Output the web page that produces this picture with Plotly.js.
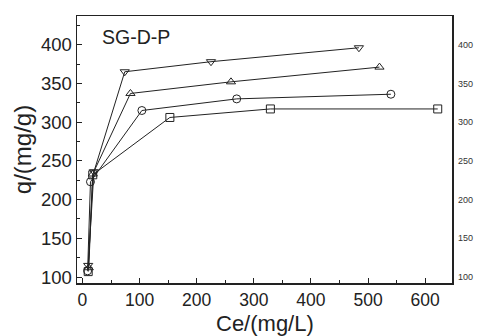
<!DOCTYPE html>
<html><head><meta charset="utf-8">
<script src="https://cdn.plot.ly/plotly-3.0.1.min.js"></script>
<style>html,body{margin:0;padding:0;background:#fff}#plot{width:479px;height:336px}</style>
</head><body><div id="plot"></div>
<script>
const sqX = [10, 18, 153, 329, 622];
const sqY = [107, 232, 306, 317, 317];
const ciX = [9, 14, 104, 270, 540];
const ciY = [108, 223, 315, 330, 336];
const upX = [11, 18, 84, 260, 520];
const upY = [112, 233, 337, 352, 371];
const dnX = [10, 20, 74, 225, 484];
const dnY = [115, 236, 365, 378, 396];
const yTicks = [100, 150, 200, 250, 300, 350, 400];
const xTicks = [0, 100, 200, 300, 400, 500, 600];

function tr(x, y, sym) {
  return {x: x, y: y, type: 'scatter', mode: 'lines+markers',
    line: {color: '#222', width: 1},
    marker: {symbol: sym, size: 8, color: '#222', line: {width: 1, color: '#222'}},
    showlegend: false};
}
const data = [
  tr(sqX, sqY, 'square-open'),
  tr(ciX, ciY, 'circle-open'),
  tr(upX, upY, 'triangle-up-open'),
  tr(dnX, dnY, 'triangle-down-open'),
  {x: [0], y: [100], yaxis: 'y2', mode: 'markers', marker: {opacity: 0}, showlegend: false, hoverinfo: 'skip'}
];
const fontFam = 'Liberation Sans, Arial, sans-serif';
const layout = {
  width: 479, height: 336,
  margin: {l: 77, r: 27, t: 16, b: 53},
  paper_bgcolor: '#fff', plot_bgcolor: '#fff',
  font: {family: fontFam, color: '#222'},
  xaxis: {range: [-9.6, 647], tickvals: xTicks, ticks: 'inside', ticklen: 5, tickwidth: 1, tickcolor: '#222',
    minor: {dtick: 50, ticks: 'inside', ticklen: 3, tickcolor: '#222'},
    showline: true, linecolor: '#222', linewidth: 1.5, mirror: true, showgrid: false, zeroline: false,
    tickfont: {size: 17.5}, ticklabelstandoff: 0},
  yaxis: {range: [92.3, 437], tickvals: yTicks, ticks: 'inside', ticklen: 5, tickwidth: 1, tickcolor: '#222',
    minor: {dtick: 25, ticks: 'inside', ticklen: 3, tickcolor: '#222'},
    showline: true, linecolor: '#222', linewidth: 1.5, mirror: true, showgrid: false, zeroline: false,
    tickfont: {size: 18.5}, ticklabelstandoff: 0,
    title: {text: 'q/(mg/g)', font: {size: 24}, standoff: 2}},
  yaxis2: {overlaying: 'y', side: 'right', range: [92.3, 437], tickvals: yTicks, ticks: '', showline: false,
    showgrid: false, zeroline: false, tickfont: {size: 9, color: '#333'}, ticklabelstandoff: 5},
  annotations: [
    {text: 'SG-D-P', xref: 'paper', yref: 'paper', x: 0.06, y: 0.97, xanchor: 'left', yanchor: 'top',
      showarrow: false, font: {size: 19.5, color: '#222'}},
    {text: 'Ce/(mg/L)', xref: 'paper', yref: 'paper', x: 0.5, y: -0.152, xanchor: 'center', yanchor: 'middle',
      showarrow: false, font: {size: 22, color: '#222'}}
  ]
};
Plotly.newPlot('plot', data, layout, {displayModeBar: false, staticPlot: true});
</script></body></html>
